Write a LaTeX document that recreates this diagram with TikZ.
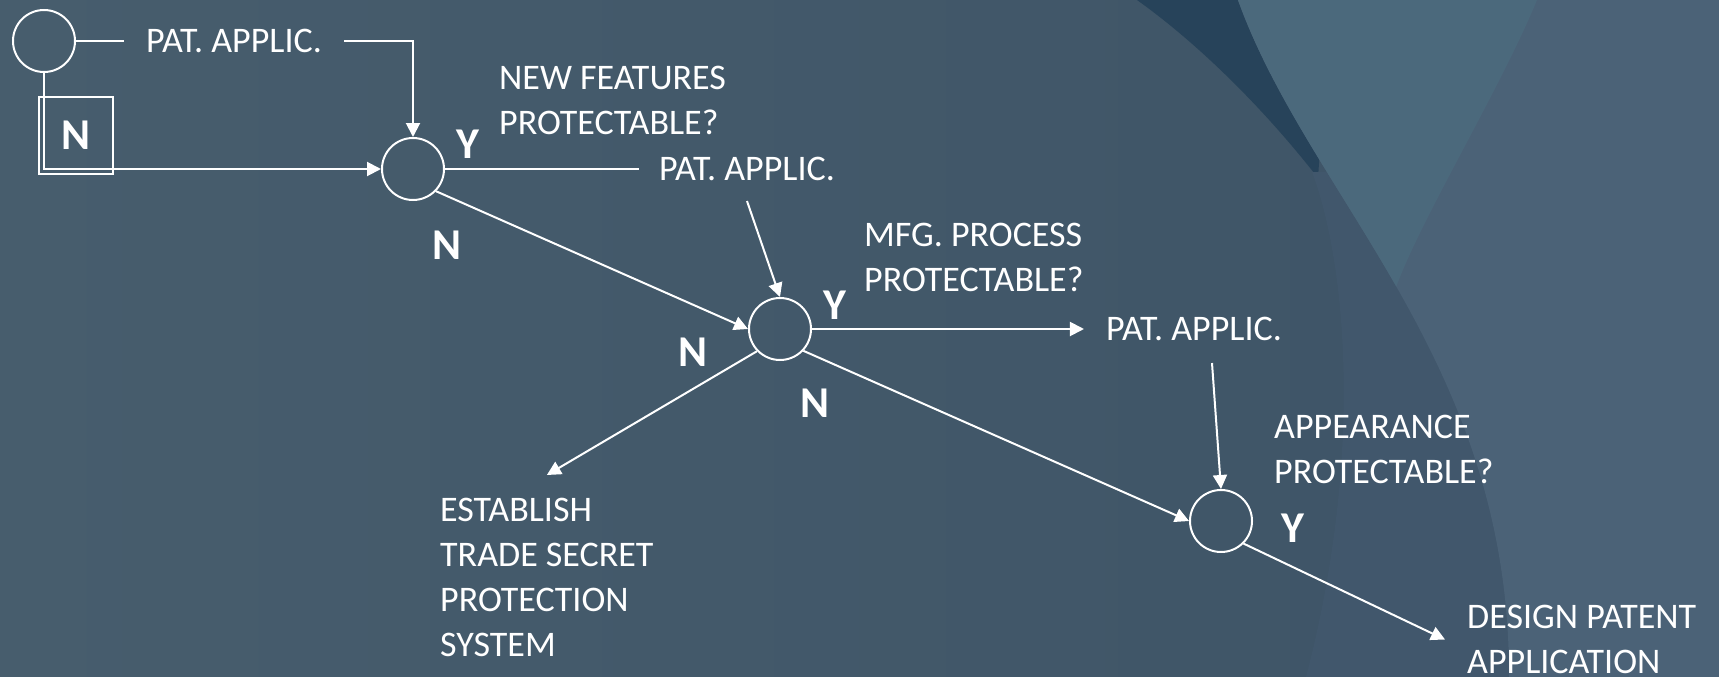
\documentclass[tikz,border=0pt]{standalone}
\usepackage{fontspec}
\setmainfont{Carlito}
\usetikzlibrary{arrows.meta}

% slide palette
\definecolor{bgleft}{HTML}{475D6D}
\definecolor{bgright}{HTML}{3D5366}
\definecolor{bandtone}{HTML}{41576C}
\definecolor{lighttone}{HTML}{4B6277}
\definecolor{tealtone}{HTML}{4B697C}
\definecolor{darktone}{HTML}{27435A}
\definecolor{ink}{HTML}{FFFFFF}

\begin{document}
\begin{tikzpicture}[
  x=1pt, y=-1pt,
  dec/.style={circle, draw=ink, line width=2pt, minimum size=62pt, inner sep=0pt},
  lbl/.style={text=ink, font=\fontsize{36}{45}\selectfont, align=left, inner sep=0pt},
  yn/.style={text=ink, font=\fontsize{44}{50}\selectfont\bfseries, inner sep=0pt},
  conn/.style={draw=ink, line width=2pt},
  arr/.style={-{Triangle[length=14pt,width=14pt]}}
]
\useasboundingbox (0,0) rectangle (1719,677);

% ---- background ----
\fill[left color=bgleft, right color=bgright] (0,0) rectangle (1719,677);
% dark swoosh at the top
\fill[darktone] (1137,0) .. controls (1200,45) and (1265,110) .. (1318,178)
  -- (1330,0) -- cycle;
% faint band below the swoosh tip
\fill[bandtone] (1312,172) .. controls (1345,260) and (1365,450) .. (1306,677)
  -- (1719,677) -- (1719,172) -- cycle;
% light panel on the right
\fill[lighttone] (1238,0) .. controls (1310,200) and (1510,360) .. (1509,677)
  -- (1719,677) -- (1719,0) -- cycle;
% teal wedge inside the light panel
\begin{scope}
  \clip (1238,0) .. controls (1310,200) and (1510,360) .. (1509,677)
    -- (1719,677) -- (1719,0) -- cycle;
  \fill[tealtone] (1200,0) -- (1395,290) .. controls (1420,220) and (1500,90) .. (1537,0) -- cycle;
\end{scope}

% ---- decision points ----
\node[dec] (c1) at (44,41) {};
\node[dec] (c2) at (413,169) {};
\node[dec] (c3) at (780,329) {};
\node[dec] (c4) at (1221,521) {};

% ---- texts ----
\node[lbl, inner sep=22pt] (p1) at (234,41) {PAT. APPLIC.};
\node[lbl, inner sep=20pt] (p2) at (747,169) {PAT. APPLIC.};
\node[lbl, inner sep=22pt] (p3) at (1194,329) {PAT. APPLIC.};
\node[lbl, anchor=north west] (nf) at (499,66) {NEW FEATURES\\PROTECTABLE?};
\node[lbl, anchor=north west] (mfg) at (864,223) {MFG. PROCESS\\PROTECTABLE?};
\node[lbl, anchor=north west] (app) at (1274,415) {APPEARANCE\\PROTECTABLE?};
\node[lbl, anchor=north west] (ts) at (440,498)
  {ESTABLISH\\TRADE SECRET\\PROTECTION\\SYSTEM};
\node[lbl, anchor=north west, inner xsep=22pt] (dp) at (1445,605)
  {DESIGN PATENT\\APPLICATION};

% ---- yes / no marks ----
\node[yn, draw=ink, line width=2pt, minimum width=74pt, minimum height=77pt] (nbox) at (76,135.5) {N};
\node[yn] (y1) at (468,144) {Y};
\node[yn] (n2) at (447,245) {N};
\node[yn] (y3) at (835,305) {Y};
\node[yn] (n3a) at (693,352) {N};
\node[yn] (n3b) at (815,403) {N};
\node[yn] (y4) at (1293,528) {Y};

% ---- connectors ----
\draw[conn] (c1) -- (p1);
\draw[conn, arr] (p1.east) -| (c2.north);
\draw[conn, arr] (c1.south) |- (c2.west);
\draw[conn] (c2) -- (p2);
\draw[conn, arr] (p2.south) -- (c3.north);
\draw[conn, arr] (c2.-44) -- (c3.west);
\draw[conn, arr] (c3) -- (p3);
\draw[conn, arr] ([xshift=18pt]p3.south) -- (c4.north);
\draw[conn, arr] (c3.-43) -- (c4.west);
\draw[conn, arr] (c3.-136) -- ([yshift=23pt]ts.north);
\draw[conn, arr] (c4.-45) -- (dp.west);
\end{tikzpicture}
\end{document}
